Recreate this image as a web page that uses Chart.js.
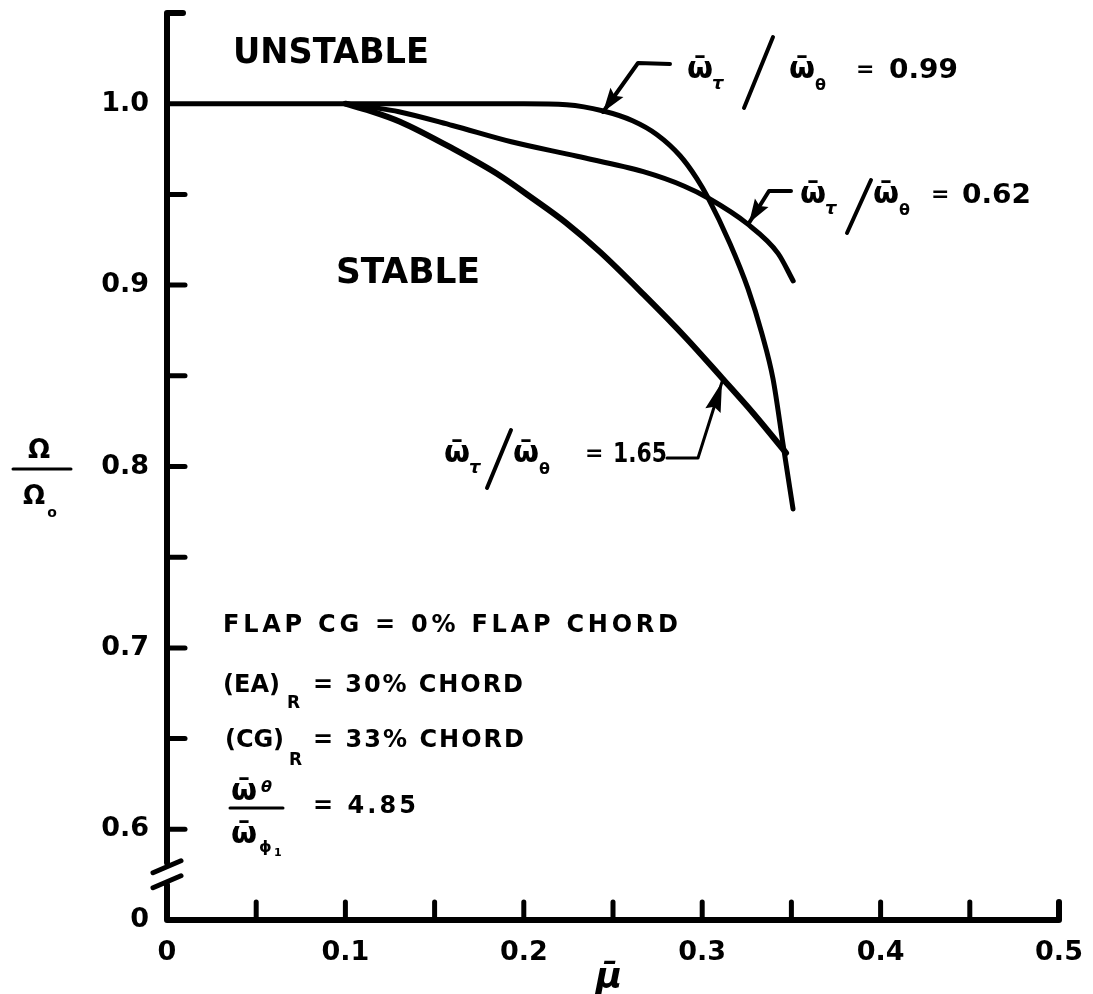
<!DOCTYPE html>
<html>
<head>
<meta charset="utf-8">
<script src="https://cdn.jsdelivr.net/npm/chart.js@4"></script>
<style>
  html, body { margin: 0; padding: 0; background: #fff; }
  canvas { display: block; }
</style>
</head>
<body>
<canvas id="chart" width="1093" height="994"></canvas>
<script>
// Flutter stability boundaries: Ω/Ω0 against advance ratio μ̄
// for three torsion-to-flap frequency ratios ω̄τ/ω̄θ.

// ω̄τ/ω̄θ = 0.99
const mu099 = [0, 0.05, 0.10, 0.15, 0.20, 0.224, 0.244, 0.261, 0.2747, 0.2876, 0.2971, 0.3033, 0.3156, 0.3257, 0.3335, 0.3397, 0.3453, 0.3509];
const om099 = [1.0, 1.0, 1.0, 1.0, 1.0, 0.9994, 0.9961, 0.9906, 0.9829, 0.9713, 0.9586, 0.9481, 0.9228, 0.8979, 0.8731, 0.8483, 0.8124, 0.7766];

// ω̄τ/ω̄θ = 0.62
const mu062 = [0.10, 0.115, 0.13, 0.16, 0.193, 0.23, 0.267, 0.29, 0.3033, 0.325, 0.3425, 0.351];
const om062 = [1.0, 0.998, 0.9956, 0.988, 0.979, 0.971, 0.9625, 0.9545, 0.948, 0.934, 0.9175, 0.9023];

// ω̄τ/ω̄θ = 1.65
const mu165 = [0.10, 0.1138, 0.1306, 0.1603, 0.1867, 0.2052, 0.2237, 0.2427, 0.2674, 0.2904, 0.3111, 0.3285, 0.347];
const om165 = [1.0, 0.9961, 0.9901, 0.9752, 0.9603, 0.9476, 0.9343, 0.9183, 0.8946, 0.8714, 0.8488, 0.8295, 0.8075];

// axis ranges and labelled tick values
const muMin = 0, muMax = 0.5, muStep = 0.05;
const omMin = 0.55, omMax = 1.05, omStep = 0.05;
const muTickLabels = ['0', '0.1', '0.2', '0.3', '0.4', '0.5'];
const omTickLabels = ['0.6', '0.7', '0.8', '0.9', '1.0'];
const omBreakLabel = '0';

const pts = (xs, ys) => xs.map((x, i) => ({ x, y: ys[i] }));

const FONT = 'DejaVu Sans';
const f = (size, style) => (style || 'bold') + ' ' + size + 'px "' + FONT + '"';

// draw a string scaled horizontally to a given width
function drawFit(ctx, s, x, y, w, font) {
  ctx.font = font;
  const nat = ctx.measureText(s).width;
  const k = w ? w / nat : 1;
  ctx.save();
  ctx.translate(x, y);
  ctx.scale(k, 1);
  ctx.textAlign = 'left';
  ctx.fillText(s, 0, 0);
  ctx.restore();
}

// draw a plain string with even letter spacing so it spans a given width
function spread(ctx, s, x, y, w, font) {
  ctx.font = font;
  const chars = Array.from(s);
  const nat = ctx.measureText(s).width;
  const sp = chars.length > 1 ? (w - nat) / (chars.length - 1) : 0;
  let cx = x;
  ctx.textAlign = 'left';
  for (const c of chars) {
    ctx.fillText(c, cx, y);
    cx += ctx.measureText(c).width + sp;
  }
}

function line(ctx, pts, w) {
  ctx.beginPath();
  ctx.moveTo(pts[0][0], pts[0][1]);
  for (let i = 1; i < pts.length; i++) ctx.lineTo(pts[i][0], pts[i][1]);
  ctx.lineWidth = w;
  ctx.stroke();
}

function arrowHead(ctx, from, tip, len, half) {
  const dx = tip[0] - from[0], dy = tip[1] - from[1];
  const d = Math.hypot(dx, dy), ux = dx / d, uy = dy / d;
  const bx = tip[0] - ux * len, by = tip[1] - uy * len;
  ctx.beginPath();
  ctx.moveTo(tip[0], tip[1]);
  ctx.lineTo(bx - uy * half, by + ux * half);
  ctx.lineTo(bx + ux * 4, by + uy * 4);
  ctx.lineTo(bx + uy * half, by - ux * half);
  ctx.closePath();
  ctx.fill();
}

// ω̄τ / ω̄θ = value, drawn with subscripts and a tall slash
function ratioLabel(ctx, o) {
  ctx.textBaseline = 'alphabetic';
  ctx.textAlign = 'left';
  ctx.font = f(30);
  ctx.fillText('ω\u0304', o.w1, o.base);
  ctx.font = f(18, 'italic bold');
  ctx.fillText('τ', o.w1 + 25, o.base + 11);
  line(ctx, [[o.sl[0], o.sl[3]], [o.sl[2], o.sl[1]]], 4);
  ctx.font = f(30);
  ctx.fillText('ω\u0304', o.w2, o.base);
  ctx.font = f(16);
  ctx.fillText('θ', o.w2 + 26, o.base + 12);
  drawFit(ctx, '=', o.eq, o.base - 2, 0, f(22));
  drawFit(ctx, o.val, o.v, o.base, o.vw, f(26));
}

const ink = {
  id: 'ink',
  afterDraw(chart) {
    const ctx = chart.ctx;
    const { left, right, top, bottom } = chart.chartArea;
    const xs = chart.scales.x, ys = chart.scales.y;
    ctx.save();
    ctx.strokeStyle = '#000';
    ctx.fillStyle = '#000';
    ctx.lineCap = 'round';
    ctx.lineJoin = 'round';

    // axes with the break between 0 and 0.6
    const gapTop = ys.getPixelForValue(0.5815), gapBot = ys.getPixelForValue(0.5695);
    line(ctx, [[left + 16, top], [left, top], [left, gapTop]], 6);
    line(ctx, [[left, gapBot], [left, bottom], [right, bottom], [right, bottom - 18]], 6);
    const bc = ys.getPixelForValue(0.5755);
    line(ctx, [[left - 14, bc - 1], [left + 14, bc - 13]], 5);
    line(ctx, [[left - 14, bc + 14], [left + 14, bc + 2]], 5);

    // inward tick marks
    ys.ticks.forEach(t => {
      const k = Math.round(t.value * 100);
      if (k >= 60 && k <= 95) {
        const py = ys.getPixelForValue(t.value);
        line(ctx, [[left, py], [left + 18, py]], 5);
      }
    });
    xs.ticks.forEach(t => {
      const k = Math.round(t.value * 100);
      if (k >= 5 && k <= 45) {
        const px = xs.getPixelForValue(t.value);
        line(ctx, [[px, bottom], [px, bottom - 18]], 5);
      }
    });

    // region names
    ctx.textBaseline = 'alphabetic';
    ctx.textAlign = 'left';
    drawFit(ctx, 'UNSTABLE', 233, 63, 196, f(35));
    drawFit(ctx, 'STABLE', 336, 283, 144, f(35));

    // curve labels and leaders
    ratioLabel(ctx, { w1: 687, sl: [744, 37, 773, 108], w2: 789, eq: 856, v: 889, vw: 69, base: 78, val: '0.99' });
    line(ctx, [[670, 64], [638, 63], [603, 112]], 4);
    arrowHead(ctx, [638, 63], [603, 112], 24, 8);

    ratioLabel(ctx, { w1: 800, sl: [847, 180, 871, 233], w2: 873, eq: 931, v: 962, vw: 69, base: 203, val: '0.62' });
    line(ctx, [[791, 191], [769, 191], [749, 223]], 4);
    arrowHead(ctx, [769, 191], [749, 223], 24, 8);

    ratioLabel(ctx, { w1: 444, sl: [487, 430, 511, 488], w2: 513, eq: 585, v: 613, vw: 54, base: 462, val: '1.65' });
    line(ctx, [[667, 458], [698, 458], [722, 382]], 3);
    arrowHead(ctx, [698, 458], [722, 382], 30, 8);

    // parameter block
    const pf = f(24);
    spread(ctx, 'FLAP CG = 0% FLAP CHORD', 223, 632, 455, pf);

    spread(ctx, '(EA)', 223, 692, 57, pf);
    drawFit(ctx, 'R', 287, 708, 0, f(17));
    spread(ctx, '= 30% CHORD', 313, 692, 210, pf);

    spread(ctx, '(CG)', 225, 747, 59, pf);
    drawFit(ctx, 'R', 289, 765, 0, f(17));
    spread(ctx, '= 33% CHORD', 313, 747, 211, pf);

    ctx.font = f(30);
    ctx.fillText('ω\u0304', 231, 800);
    ctx.font = f(16, 'italic bold');
    ctx.fillText('θ', 261, 792);
    line(ctx, [[230, 808], [283, 808]], 3);
    ctx.font = f(30);
    ctx.fillText('ω\u0304', 231, 843);
    ctx.font = f(16);
    ctx.fillText('ϕ', 259, 852);
    ctx.font = f(11);
    ctx.fillText('1', 274, 856);
    spread(ctx, '= 4.85', 313, 813, 103, pf);

    // axis titles
    ctx.textAlign = 'center';
    ctx.font = f(26);
    ctx.fillText('Ω', 39, 458);
    line(ctx, [[13, 469], [71, 469]], 3);
    ctx.fillText('Ω', 34, 504);
    ctx.font = f(14);
    ctx.fillText('o', 52, 517);
    ctx.font = f(36, 'italic bold');
    ctx.fillText('μ\u0304', 609, 988);
    ctx.restore();
  }
};

// keep the plot area fixed: no extra room reserved for overhanging tick labels
function noOverhang(s) {
  s.paddingTop = 0; s.paddingBottom = 0; s.paddingLeft = 0; s.paddingRight = 0;
}

new Chart(document.getElementById('chart'), {
  type: 'line',
  data: {
    datasets: [
      { label: 'ω̄τ/ω̄θ = 0.99', data: pts(mu099, om099), borderWidth: 5 },
      { label: 'ω̄τ/ω̄θ = 0.62', data: pts(mu062, om062), borderWidth: 5 },
      { label: 'ω̄τ/ω̄θ = 1.65', data: pts(mu165, om165), borderWidth: 6 }
    ]
  },
  options: {
    responsive: false,
    animation: false,
    events: [],
    layout: { padding: { top: 13, right: 34, left: 0, bottom: 0 } },
    plugins: { legend: { display: false }, tooltip: { enabled: false } },
    elements: {
      point: { radius: 0 },
      line: { borderColor: '#000', borderCapStyle: 'round', borderJoinStyle: 'round', cubicInterpolationMode: 'monotone' }
    },
    scales: {
      x: {
        type: 'linear', min: muMin, max: muMax,
        grid: { display: false }, border: { display: false },
        ticks: {
          stepSize: muStep, autoSkip: false, maxRotation: 0, padding: 9,
          color: '#000', font: { family: FONT, weight: 'bold', size: 27 },
          callback: v => { const k = Math.round(v * 100); return k % 10 === 0 ? muTickLabels[k / 10] : ''; }
        },
        afterFit: s => { s.height = 74; noOverhang(s); }
      },
      y: {
        type: 'linear', min: omMin, max: omMax,
        grid: { display: false }, border: { display: false },
        ticks: {
          stepSize: omStep, autoSkip: false, padding: 10,
          color: '#000', font: { family: FONT, weight: 'bold', size: 27 },
          callback: v => {
            const k = Math.round(v * 100);
            if (k === 55) return omBreakLabel;
            if (k % 10 === 0 && k >= 60 && k <= 100) return omTickLabels[(k - 60) / 10];
            return '';
          }
        },
        afterFit: s => { s.width = 167; noOverhang(s); }
      }
    }
  },
  plugins: [ink]
});
</script>
</body>
</html>
